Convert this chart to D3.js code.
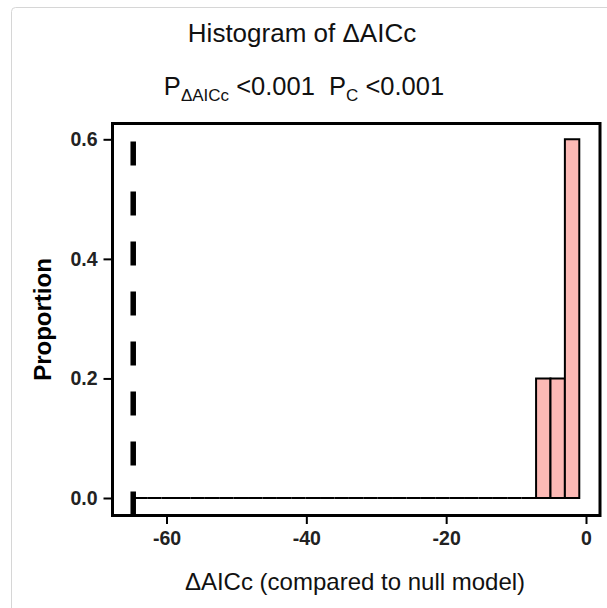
<!DOCTYPE html>
<html>
<head>
<meta charset="utf-8">
<script src="https://cdn.jsdelivr.net/npm/d3@7"></script>
<style>
  body { margin: 0; background: #fff; }
  svg { display: block; font-family: "Liberation Sans", Arial, sans-serif; }
</style>
</head>
<body>
<svg id="chart" width="607" height="608"></svg>
<script>
// histogram of the null-model ΔAICc values (proportions per bin)
var binStart = -64.82;
var binWidth = 2.06;
var proportions = [0, 0, 0, 0, 0, 0, 0, 0, 0, 0,
                   0, 0, 0, 0, 0, 0, 0, 0, 0, 0,
                   0, 0, 0, 0, 0, 0, 0, 0, 0.2, 0.2, 0.6];
var observed = -64.76;   // dashed line
var xTicks = [-60, -40, -20, 0];
var yTicks = [0, 0.2, 0.4, 0.6];

var svg = d3.select("#chart");

// panel box
var panel = {left: 112.5, right: 600, top: 123.5, bottom: 515.5};

var x = d3.scaleLinear().domain([-60, 0]).range([166.5, 586]);
var y = d3.scaleLinear().domain([0, 0.6]).range([498, 139.3]);

// card outline behind the plot
svg.append("rect")
    .attr("x", 11.5).attr("y", 7.5)
    .attr("width", 700).attr("height", 700)
    .attr("rx", 4)
    .attr("fill", "#fff")
    .attr("stroke", "#d6d6d6");

var bins = proportions.map(function(p, i) {
  return {x0: binStart + i * binWidth, x1: binStart + (i + 1) * binWidth, p: p};
});

// bars as paths so the empty bins still show as a line
svg.append("g").selectAll("path")
  .data(bins)
  .enter().append("path")
    .attr("d", function(d) {
      var x0 = x(d.x0), x1 = x(d.x1), y0 = y(0), y1 = y(d.p);
      return "M" + x0 + "," + y0 + "V" + y1 + "H" + x1 + "V" + y0 + "Z";
    })
    .attr("fill", "#fcb9b5")
    .attr("stroke", "#000")
    .attr("stroke-width", 2);

// observed value, dashes start from the bottom
svg.append("line")
    .attr("x1", x(observed)).attr("x2", x(observed))
    .attr("y1", panel.bottom).attr("y2", panel.top)
    .attr("stroke", "#000")
    .attr("stroke-width", 5.5)
    .attr("stroke-dasharray", "24,26");

svg.append("rect")
    .attr("x", panel.left).attr("y", panel.top)
    .attr("width", panel.right - panel.left)
    .attr("height", panel.bottom - panel.top)
    .attr("fill", "none")
    .attr("stroke", "#000")
    .attr("stroke-width", 3);

// axes
var gx = svg.append("g")
    .attr("transform", "translate(0," + (panel.bottom + 1.5) + ")")
    .call(d3.axisBottom(x).tickValues(xTicks).tickSize(7).tickPadding(7)
      .tickFormat(function(d) { return String(d); }));

var gy = svg.append("g")
    .attr("transform", "translate(" + (panel.left - 1.5) + ",0)")
    .call(d3.axisLeft(y).tickValues(yTicks).tickSize(7.5).tickPadding(6)
      .tickFormat(d3.format(".1f")));

[gx, gy].forEach(function(g) {
  g.select(".domain").remove();
  g.selectAll(".tick line").attr("stroke", "#000").attr("stroke-width", 2);
  g.selectAll(".tick text")
      .attr("fill", "#222")
      .style("font-family", "'Liberation Sans', Arial, sans-serif")
      .style("font-size", "19.5px")
      .style("font-weight", "bold");
});
gx.selectAll(".tick text").attr("dy", "0.71em");

// titles
svg.append("text")
    .attr("x", 302).attr("y", 42)
    .attr("text-anchor", "middle")
    .style("font-size", "26px")
    .attr("fill", "#111")
    .text("Histogram of ΔAICc");

var sub = svg.append("text")
    .attr("x", 304).attr("y", 95)
    .attr("text-anchor", "middle")
    .style("font-size", "25.5px")
    .style("white-space", "pre")
    .attr("fill", "#111");
sub.append("tspan").text("P");
sub.append("tspan").attr("dy", 6).style("font-size", "17px").text("ΔAICc");
sub.append("tspan").attr("dy", -6).text(" <0.001  P");
sub.append("tspan").attr("dy", 6).style("font-size", "17px").text("C");
sub.append("tspan").attr("dy", -6).text(" <0.001");

svg.append("text")
    .attr("x", 355).attr("y", 590)
    .attr("text-anchor", "middle")
    .style("font-size", "24px")
    .attr("fill", "#111")
    .text("ΔAICc (compared to null model)");

svg.append("text")
    .attr("transform", "translate(51," + (panel.top + panel.bottom) / 2 + ") rotate(-90)")
    .attr("text-anchor", "middle")
    .style("font-size", "24px")
    .style("font-weight", "bold")
    .attr("fill", "#000")
    .text("Proportion");
</script>
</body>
</html>
